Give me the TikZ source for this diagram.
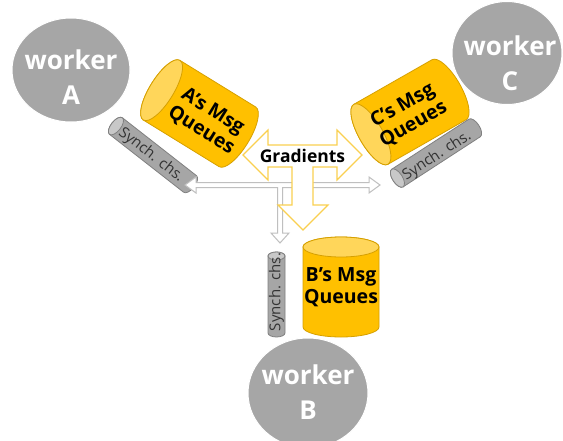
\documentclass[tikz,border=0pt]{standalone}
\usepackage{fontspec}
\setmainfont{Open Sans}
\usetikzlibrary{shapes.geometric}
\definecolor{wgray}{RGB}{166,166,166}
\definecolor{qgold}{RGB}{255,192,0}
\definecolor{qface}{RGB}{255,214,90}
\definecolor{qedge}{RGB}{214,160,0}
\definecolor{sbody}{RGB}{166,166,166}
\definecolor{sface}{RGB}{200,200,200}
\definecolor{sedge}{RGB}{128,128,128}
\definecolor{gline}{RGB}{250,208,80}
\definecolor{aline}{RGB}{191,191,191}
% cx, cy, angle, L, R, e, body, face, edge
\newcommand\drawcyl[9]{%
\begin{scope}[shift={(#1,#2)},rotate=#3]
\filldraw[fill=#7,draw=#9,line width=0.8pt] (-#4/2,-#5) -- (#4/2,-#5)
  arc[start angle=-90,end angle=90,x radius=#6,y radius=#5] -- (-#4/2,#5)
  arc[start angle=90,end angle=270,x radius=#6,y radius=#5] -- cycle;
\filldraw[fill=#8,draw=#9,line width=0.8pt] (-#4/2,0) ellipse[x radius=#6,y radius=#5];
\end{scope}}
\begin{document}
\begin{tikzpicture}[x=1pt,y=-1pt,
 worker/.style={ellipse,fill=wgray,draw=white,line width=1pt,inner sep=0pt},
 workertxt/.style={text=white,font=\fontsize{26}{35}\selectfont\bfseries,align=center,inner sep=0pt},
 qtxt/.style={font=\fontsize{19.5}{22}\selectfont\bfseries,align=center,inner sep=0pt},
 stxt/.style={font=\fontsize{15}{17}\selectfont,text=black!80,inner sep=0pt},
 gtxt/.style={font=\fontsize{17.5}{20}\selectfont\bfseries,inner sep=0pt},
 garrow/.style={fill=white,draw=gline,line width=1.2pt,line join=miter},
 sarrow/.style={fill=white,draw=aline,line width=1pt,line join=miter}]
\useasboundingbox (0,0) rectangle (563,440);
\fill[white] (0,0) rectangle (563,440);

% workers
\node[worker,minimum width=118pt,minimum height=104pt] (wA) at (71,70) {};
\node[worker,minimum width=110pt,minimum height=103pt] (wC) at (507,53) {};
\node[worker,minimum width=120pt,minimum height=110pt] (wB) at (308,393) {};
\node[workertxt] (wAt) at (71,77) {worker\\A};
\node[workertxt] (wCt) at (510,63) {worker\\C};
\node[workertxt] (wBt) at (308,392) {worker\\B};

% message queue cylinders
\drawcyl{199.5}{113.5}{-31.6}{89}{35}{12}{qgold}{qface}{qedge}
\drawcyl{410}{112}{29.7}{90}{34.5}{12}{qgold}{qface}{qedge}
\drawcyl{341}{287}{-90}{80}{38}{10}{qgold}{qface}{qedge}

% synch channel cylinders
\drawcyl{153}{155}{-38}{94}{10.5}{5}{sbody}{sface}{sedge}
\drawcyl{436}{153}{33}{92}{10.5}{5}{sbody}{sface}{sedge}
\drawcyl{276.5}{294.5}{-90}{77}{8.5}{4}{sbody}{sface}{sedge}

% synch channel connector (hollow arrow)
\coordinate (tA) at (185,185);
\coordinate (tC) at (380,185);
\coordinate (tB) at (280,243);
\draw[sarrow] (tA) -- ++(11,-8) -- ++(0,5.5) -- (369,182.5) -- ++(0,-5.5) -- (tC)
  -- (369,193) -- ++(0,-5.5) -- (282.5,187.5) -- (282.5,233) -- (289,233) -- (tB)
  -- (271,233) -- (277.5,233) -- (277.5,187.5) -- (196,187.5) -- (196,193) -- cycle;

% gradients three-way arrow
\draw[garrow] (243,155) -- (268,130) -- (268,145) -- (337,145) -- (337,130) -- (362,155)
  -- (337,180) -- (337,167) -- (313,167) -- (313,205) -- (328,205) -- (303,230)
  -- (278,205) -- (292,205) -- (292,167) -- (268,167) -- (268,180) -- cycle;
\node[gtxt] (grad) at (302.5,156) {Gradients};

% texts
\node[qtxt,rotate=-31.6] (qA) at (207,121) {A’s Msg\\Queues};
\node[qtxt,rotate=29.7] (qC) at (408,115) {C’s Msg\\Queues};
\node[qtxt] (qB) at (341,287) {B’s Msg\\Queues};
\node[stxt,rotate=-38] (sA) at (151,155) {Synch. chs.};
\node[stxt,rotate=33] (sC) at (437,156) {Synch. chs.};
\node[stxt,rotate=90] (sB) at (276.5,292) {Synch. chs.};
\end{tikzpicture}
\end{document}
